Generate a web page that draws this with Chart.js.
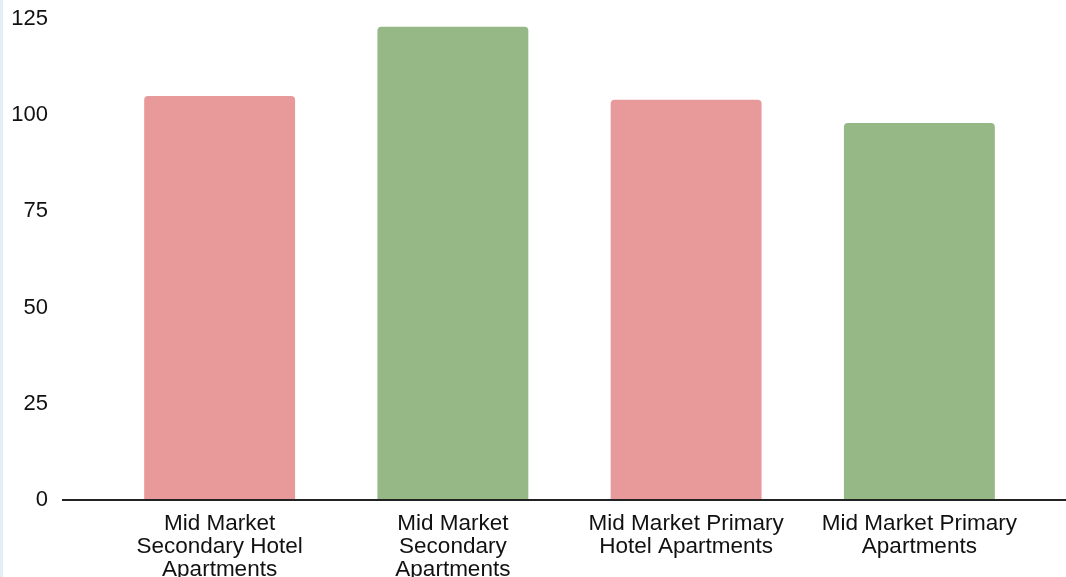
<!DOCTYPE html>
<html>
<head>
<meta charset="utf-8">
<script src="https://cdn.jsdelivr.net/npm/chart.js@4"></script>
<style>
  html, body { margin: 0; padding: 0; background: #fff; overflow: hidden; }
  #wrap { position: relative; width: 1066px; height: 577px; }
  #edge { position: absolute; left: 0; top: 0; width: 3px; height: 577px; background: #e2eff7; }
  #myChart { position: absolute; left: 0; top: 0; }
</style>
</head>
<body>
<div id="wrap">
  <canvas id="myChart" width="1066" height="577"></canvas>
  <div id="edge"></div>
</div>
<script>
const categories = [
  ['Mid Market', 'Secondary Hotel', 'Apartments'],
  ['Mid Market', 'Secondary', 'Apartments'],
  ['Mid Market Primary', 'Hotel Apartments'],
  ['Mid Market Primary', 'Apartments'],
];
const values = [105, 123, 104, 98];
const barColors = ['#e8999a', '#95b886', '#e8999a', '#95b886'];
const yTicks = [0, 25, 50, 75, 100, 125];

// baseline runs past the plot area, from the tick labels to the right edge
const baselinePlugin = {
  id: 'baseline',
  afterDatasetsDraw(chart) {
    const { ctx, width, scales: { y } } = chart;
    const yPos = y.getPixelForValue(0);
    ctx.save();
    ctx.lineWidth = 2;
    ctx.strokeStyle = '#222';
    ctx.beginPath();
    ctx.moveTo(62, yPos);
    ctx.lineTo(width, yPos);
    ctx.stroke();
    ctx.restore();
  },
};

const font = { family: "'Liberation Sans', Arial, sans-serif", size: 22.5, lineHeight: 1.03 };

new Chart(document.getElementById('myChart'), {
  type: 'bar',
  data: {
    labels: categories,
    datasets: [
      {
        data: values,
        backgroundColor: barColors,
        borderRadius: { topLeft: 4, topRight: 4 },
        borderSkipped: 'bottom',
        categoryPercentage: 1,
        barPercentage: 0.647,
      },
    ],
  },
  options: {
    responsive: false,
    animation: false,
    devicePixelRatio: 1,
    layout: { padding: { top: 19, right: 30, left: 0, bottom: 0 } },
    plugins: {
      legend: { display: false },
      tooltip: { enabled: false },
      title: { display: false },
    },
    scales: {
      x: {
        grid: { display: false, drawTicks: false },
        border: { display: false },
        ticks: { color: '#111', font: font, padding: 12, maxRotation: 0, autoSkip: false },
        afterFit: (scale) => { scale.height = 77; },
      },
      y: {
        min: 0,
        max: 125,
        grid: { display: false, drawTicks: false },
        border: { display: false },
        afterBuildTicks: (scale) => { scale.ticks = yTicks.map((v) => ({ value: v })); },
        ticks: { color: '#111', font: { family: font.family, size: 22 }, padding: 55 },
        afterFit: (scale) => {
          scale.width = 103;
          // tick padding would otherwise push the plot top down
          scale.paddingTop = 13;
          scale.paddingBottom = 13;
        },
      },
    },
  },
  plugins: [baselinePlugin],
});
</script>
</body>
</html>
